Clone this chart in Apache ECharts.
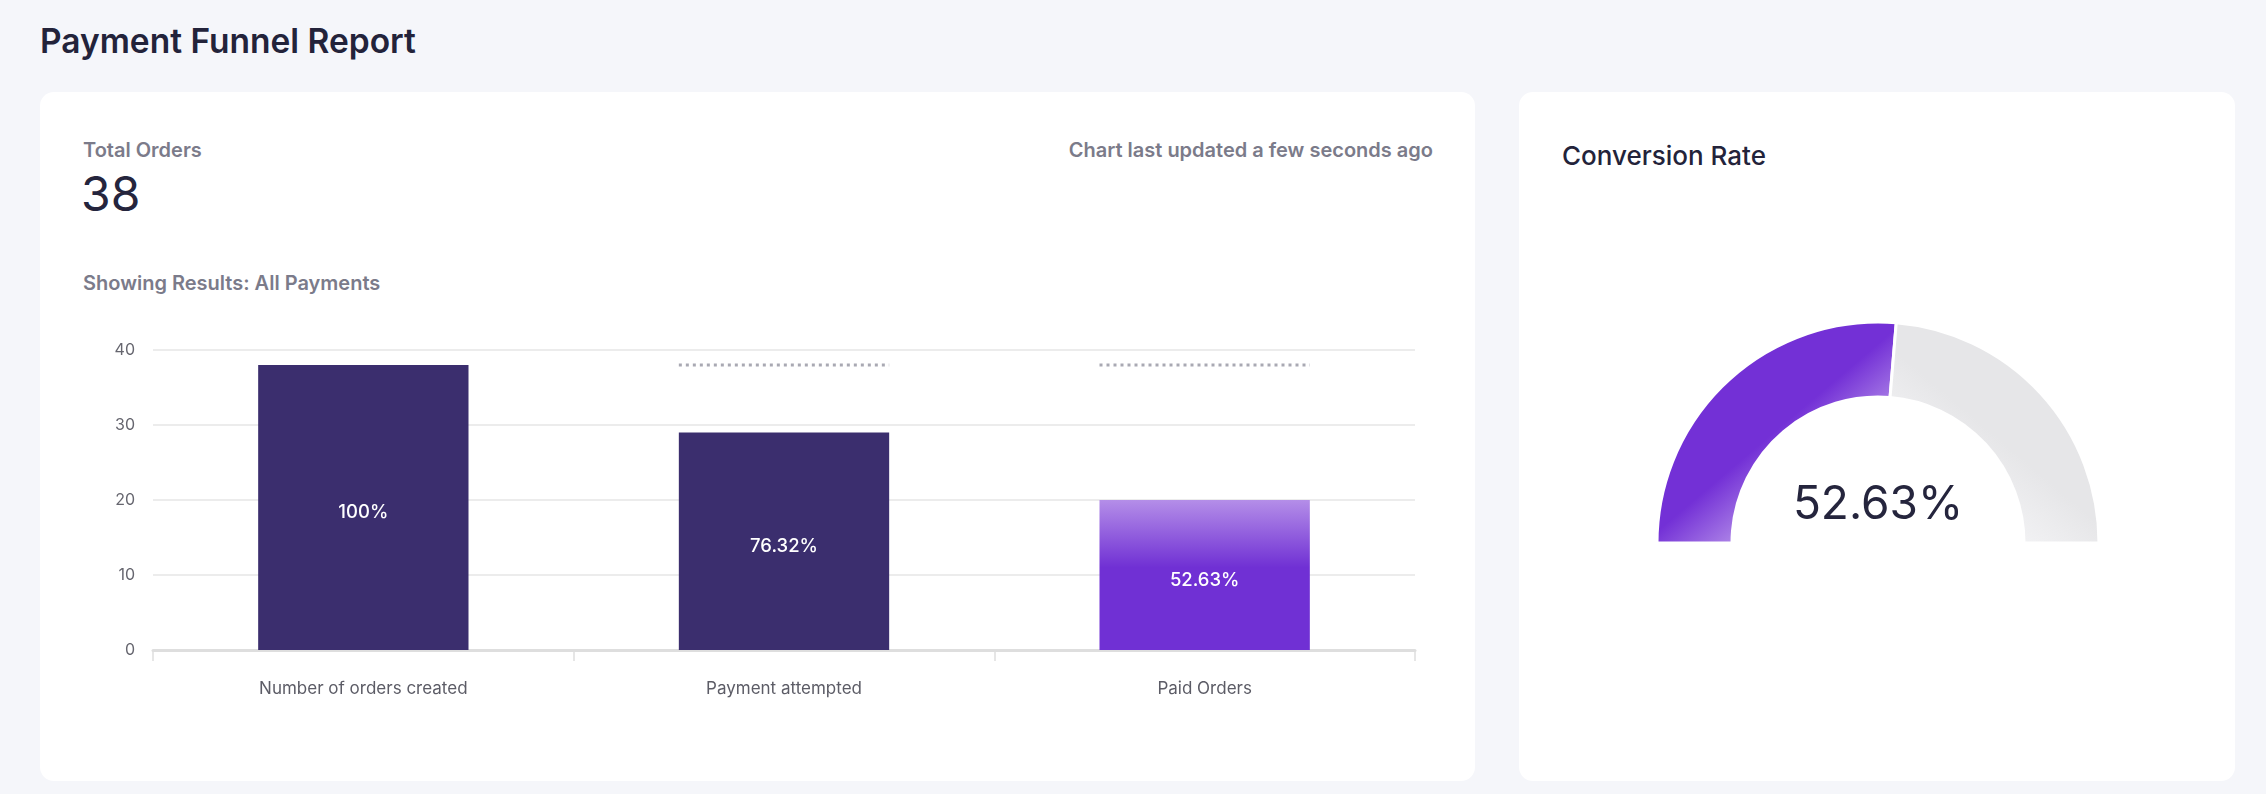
<!DOCTYPE html>
<html>
<head>
<meta charset="utf-8">
<title>Payment Funnel Report</title>
<script src="https://cdn.jsdelivr.net/npm/echarts@6/dist/echarts.min.js"></script>
<style>
  html, body { margin: 0; padding: 0; }
  body {
    width: 2266px; height: 794px; overflow: hidden; position: relative;
    background: #f5f6fa; font-family: Inter, "Noto Sans", sans-serif;
  }
  .txt { position: absolute; line-height: 1; white-space: nowrap; margin: 0; }
  .card { position: absolute; background: #fff; border-radius: 14px; }
  #chart { position: absolute; left: 0; top: 0; width: 2266px; height: 794px; }
</style>
</head>
<body>
<h1 class="txt" style="left:40px;top:25px;font-size:33.5px;font-weight:600;color:#23233a;">Payment Funnel Report</h1>
<div class="card" style="left:40px;top:92px;width:1435px;height:689px;"></div>
<div class="card" style="left:1519px;top:92px;width:716px;height:689px;"></div>
<div class="txt" style="left:83px;top:140px;font-size:20px;font-weight:600;color:#7b7b8a;">Total Orders</div>
<div class="txt" style="left:81px;top:170px;font-size:48px;color:#25253d;">38</div>
<div class="txt" style="left:83px;top:273px;font-size:20px;font-weight:600;color:#7b7b8a;">Showing Results: All Payments</div>
<div class="txt" style="right:833px;top:140px;font-size:20px;font-weight:600;color:#7b7b8a;">Chart last updated a few seconds ago</div>
<div class="txt" style="left:1562px;top:143px;font-size:26px;font-weight:500;color:#23233a;">Conversion Rate</div>
<div id="chart"></div>
<script>
var stages = ['Number of orders created', 'Payment attempted', 'Paid Orders'];
var orders = [38, 29, 20];
var yTicks = [0, 10, 20, 30, 40];

var total = orders[0];
var paid = orders[orders.length - 1];
function pct(v) { return parseFloat((v / total * 100).toFixed(2)) + '%'; }

var chart = echarts.init(document.getElementById('chart'));

var barColors = [
  '#3b2e6e',
  '#3b2e6e',
  new echarts.graphic.LinearGradient(0, 0, 0, 1, [
    { offset: 0, color: '#b48ee8' },
    { offset: 0.45, color: '#7030d4' },
    { offset: 1, color: '#7030d4' }
  ])
];

var option = {
  animation: false,
  textStyle: { fontFamily: 'Inter' },
  grid: { left: 153, right: 851, top: 350, bottom: 144 },
  xAxis: {
    type: 'category',
    data: stages,
    axisLine: { lineStyle: { color: '#dedede', width: 3 } },
    axisTick: { show: true, length: 11, lineStyle: { color: '#dedede', width: 1.5 } },
    axisLabel: { color: '#5c5c66', fontSize: 17, margin: 30 }
  },
  yAxis: {
    type: 'value',
    min: yTicks[0],
    max: yTicks[yTicks.length - 1],
    interval: yTicks[1] - yTicks[0],
    axisLine: { show: false },
    axisTick: { show: false },
    axisLabel: { color: '#66666f', fontSize: 16, margin: 18 },
    splitLine: { lineStyle: { color: '#e6e6e6', width: 1.5 } }
  },
  series: [
    {
      type: 'bar',
      barWidth: '50%',
      data: orders.map(function (v, i) {
        return { value: v, itemStyle: { color: barColors[i] } };
      }),
      label: {
        show: true,
        position: 'inside',
        offset: [0, 5],
        color: '#fff',
        fontSize: 18.5,
        fontWeight: 500,
        formatter: function (p) { return pct(p.value); }
      }
    },
    {
      // dotted marks showing the total above each later stage
      type: 'custom',
      data: orders.slice(1).map(function (v, i) { return [i + 1, total]; }),
      renderItem: function (params, api) {
        var c = api.coord([api.value(0), api.value(1)]);
        var w = api.size([1, 0])[0] * 0.5;
        return {
          type: 'line',
          shape: { x1: c[0] - w / 2, y1: c[1], x2: c[0] + w / 2, y2: c[1] },
          style: { stroke: '#a9a9b3', lineWidth: 3, lineDash: [3, 4] }
        };
      },
      z: 3
    },
    {
      type: 'pie',
      center: [1878, 543],
      radius: [146, 221],
      startAngle: 180,
      clockwise: true,
      silent: true,
      label: { show: false },
      labelLine: { show: false },
      data: [
        {
          value: paid,
          itemStyle: {
            borderColor: '#fff', borderWidth: 3,
            color: {
              type: 'linear', global: true,
              x: 1745, y: 548, x2: 1700, y2: 495,
              colorStops: [{ offset: 0, color: '#b894ea' }, { offset: 1, color: '#7330d6' }]
            }
          }
        },
        {
          value: total - paid,
          itemStyle: {
            borderColor: '#fff', borderWidth: 3,
            color: {
              type: 'linear', global: true,
              x: 2020, y: 548, x2: 2065, y2: 495,
              colorStops: [{ offset: 0, color: '#f3f3f5' }, { offset: 1, color: '#e6e6e8' }]
            }
          }
        },
        { value: total, itemStyle: { color: 'transparent' } }
      ]
    }
  ],
  graphic: [
    {
      type: 'text',
      x: 1878,
      y: 505,
      style: {
        text: pct(paid),
        fill: '#25253d',
        font: '46px Inter',
        textAlign: 'center',
        textVerticalAlign: 'middle'
      }
    }
  ]
};

chart.setOption(option);
</script>
</body>
</html>
